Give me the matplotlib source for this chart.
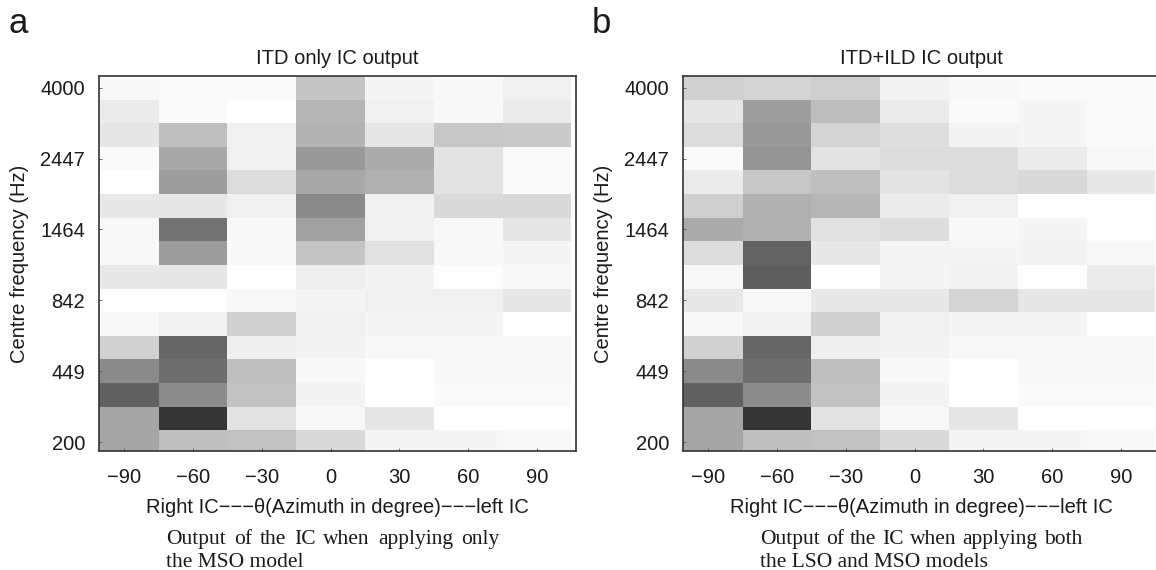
import numpy as np
import matplotlib
matplotlib.use("Agg")
import matplotlib.pyplot as plt

plt.rcParams['font.family'] = ['Liberation Sans', 'DejaVu Sans']

# azimuth columns (degrees) and the frequency ticks (every third channel)
azimuth = [-90, -60, -30, 0, 30, 60, 90]
freq_ticks = [200, 449, 842, 1464, 2447, 4000]

# grey level of each cell (0 = white, 1 = black), rows from 4000 Hz down to 200 Hz
itd_only = [
    [0.03, 0.02, 0.02, 0.23, 0.04, 0.03, 0.06],
    [0.08, 0.02, 0.00, 0.29, 0.06, 0.03, 0.08],
    [0.10, 0.25, 0.06, 0.30, 0.10, 0.22, 0.21],
    [0.02, 0.34, 0.06, 0.40, 0.33, 0.11, 0.02],
    [0.00, 0.39, 0.14, 0.34, 0.31, 0.11, 0.02],
    [0.09, 0.10, 0.06, 0.46, 0.06, 0.15, 0.15],
    [0.03, 0.55, 0.03, 0.37, 0.06, 0.03, 0.10],
    [0.03, 0.39, 0.03, 0.23, 0.12, 0.03, 0.04],
    [0.09, 0.10, 0.00, 0.07, 0.05, 0.01, 0.03],
    [0.01, 0.01, 0.03, 0.04, 0.06, 0.06, 0.10],
    [0.03, 0.06, 0.19, 0.06, 0.04, 0.04, 0.00],
    [0.18, 0.60, 0.07, 0.05, 0.03, 0.03, 0.03],
    [0.46, 0.57, 0.25, 0.03, 0.00, 0.03, 0.03],
    [0.62, 0.45, 0.24, 0.05, 0.00, 0.02, 0.02],
    [0.35, 0.79, 0.11, 0.03, 0.10, 0.00, 0.00],
    [0.35, 0.25, 0.24, 0.15, 0.04, 0.04, 0.03],
]

itd_ild = [
    [0.18, 0.17, 0.19, 0.05, 0.03, 0.02, 0.02],
    [0.10, 0.38, 0.26, 0.08, 0.02, 0.04, 0.02],
    [0.14, 0.40, 0.17, 0.13, 0.05, 0.04, 0.02],
    [0.02, 0.42, 0.11, 0.14, 0.14, 0.08, 0.03],
    [0.08, 0.22, 0.25, 0.11, 0.14, 0.15, 0.09],
    [0.19, 0.31, 0.29, 0.08, 0.06, 0.00, 0.01],
    [0.33, 0.31, 0.12, 0.14, 0.03, 0.04, 0.01],
    [0.14, 0.61, 0.09, 0.04, 0.04, 0.05, 0.03],
    [0.03, 0.63, 0.00, 0.04, 0.05, 0.01, 0.08],
    [0.09, 0.03, 0.09, 0.09, 0.17, 0.10, 0.10],
    [0.03, 0.06, 0.19, 0.06, 0.04, 0.04, 0.00],
    [0.18, 0.60, 0.07, 0.05, 0.03, 0.03, 0.03],
    [0.46, 0.57, 0.25, 0.03, 0.00, 0.03, 0.03],
    [0.62, 0.45, 0.24, 0.05, 0.00, 0.02, 0.02],
    [0.35, 0.79, 0.11, 0.03, 0.10, 0.00, 0.00],
    [0.35, 0.25, 0.24, 0.15, 0.04, 0.04, 0.03],
]

titles = ["ITD only IC output", "ITD+ILD IC output"]
captions = [["Output of the IC when applying only", "the MSO model"],
            ["Output of the IC when applying both", "the LSO and MSO models"]]
panel_letters = ["a", "b"]

W, H = 1156, 570
fig = plt.figure(figsize=(W / 100, H / 100), dpi=100)
renderer = fig.canvas.get_renderer()

CAP_FONT = dict(family='Liberation Serif', fontsize=15.5, color='#1a1a1a')


def justified_line(x_px, y_px, line, width_px):
    # lay the words out one by one so the line fills width_px (justified)
    words = line.split()
    widths = []
    for w in words:
        t = fig.text(0, 0, w, **CAP_FONT)
        widths.append(t.get_window_extent(renderer).width)
        t.remove()
    gap = (width_px - sum(widths)) / (len(words) - 1)
    x = x_px
    for w, wd in zip(words, widths):
        fig.text(x / W, (H - y_px) / H, w, va='baseline', ha='left', **CAP_FONT)
        x += wd + gap


def draw_panel(left_px, values, title, caption, letter, cap_x, cap_w):
    ax = fig.add_axes([left_px / W, (H - 451) / H, 477 / W, 375 / H])
    grid = np.array(values)[::-1]          # bottom row = 200 Hz
    n_rows = grid.shape[0]
    x_edges = np.append(np.array(azimuth) - 15, azimuth[-1] + 15)
    y_edges = np.arange(n_rows + 1) - 0.5
    ax.pcolormesh(x_edges, y_edges, grid, cmap='gray_r', vmin=0, vmax=1,
                  shading='flat')
    ax.set_xlim(-101, 107)
    ax.set_ylim(-0.38, n_rows - 0.5)
    ax.set_xticks(azimuth)
    ax.set_xticklabels([str(a).replace('-', '\u2212') for a in azimuth])
    ax.set_yticks(np.arange(0, n_rows, 3))
    ax.set_yticklabels([str(f) for f in freq_ticks])
    ax.tick_params(direction='in', length=2.5, width=0.6, colors='#555555',
                   labelcolor='#1a1a1a', labelsize=14.5)
    ax.tick_params(axis='x', pad=12)
    ax.tick_params(axis='y', pad=10)
    for s in ax.spines.values():
        s.set_color('#333333')
        s.set_linewidth(1.2)
    ax.set_title(title, fontsize=14.5, pad=9, color='#1a1a1a')
    ax.set_xlabel('Right IC\u2212\u2212\u2212\u03b8(Azimuth in degree)\u2212\u2212\u2212left IC',
                  fontsize=14.5, labelpad=8, color='#1a1a1a')
    ax.set_ylabel('Centre frequency (Hz)', fontsize=14.5, labelpad=8,
                  color='#1a1a1a')
    justified_line(cap_x, 544, caption[0], cap_w)
    fig.text(cap_x / W, (H - 567) / H, caption[1], va='baseline', ha='left',
             **CAP_FONT)
    fig.text((left_px - 91) / W, (H - 33) / H, letter, fontsize=25,
             va='baseline', ha='left', color='#1a1a1a')
    return ax


draw_panel(99, itd_only, titles[0], captions[0], panel_letters[0], 166, 333)
draw_panel(683, itd_ild, titles[1], captions[1], panel_letters[1], 760, 322)

fig.savefig('out.png', dpi=100)
